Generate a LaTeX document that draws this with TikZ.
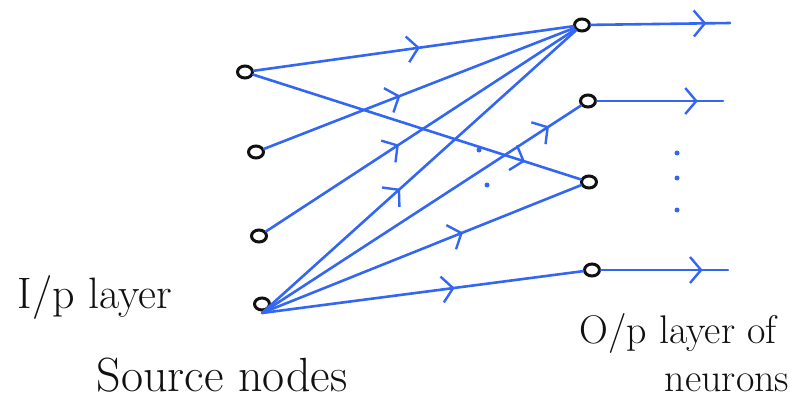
\documentclass[tikz,border=0pt]{standalone}
\usepackage{tikz}
\usetikzlibrary{arrows.meta,positioning,shapes.geometric,decorations.markings}
\definecolor{wire}{HTML}{3366F2}
\definecolor{ink}{HTML}{111111}
\tikzset{
  neuron/.style={ellipse,draw=ink,line width=3pt,minimum width=15pt,minimum height=12pt,inner sep=0pt},
  link/.style={draw=wire,line width=2.6pt,line cap=round},
  midarrow/.style={postaction={decorate},decoration={markings,
    mark=at position #1 with {\arrow[wire,line width=2.4pt]{Straight Barb[length=11pt,width=26pt]}}}},
  hand/.style={font=\fontsize{44}{48}\selectfont,text=ink,inner sep=0pt},
  dot/.style={circle,fill=wire,inner sep=0pt,minimum size=5pt}
}
\begin{document}
\begin{tikzpicture}[x=1pt,y=-1pt]
  \useasboundingbox (0,0) rectangle (794,404);
  % input layer
  \node[neuron] (i1) at (245,72) {};
  \node[neuron] (i2) at (256,152) {};
  \node[neuron] (i3) at (259,236) {};
  \node[neuron] (i4) at (262,304) {};
  \coordinate (s4) at (262,313);
  % output layer
  \node[neuron] (o1) at (582,25) {};
  \node[neuron] (o2) at (588,101) {};
  \node[neuron] (o3) at (589,182) {};
  \node[neuron] (o4) at (592,270) {};
  \coordinate (y1) at (730,23);
  \coordinate (y2) at (723,101);
  \coordinate (y4) at (728,270);
  % connections
  \draw[link,midarrow=0.52] (i1) -- (o1);
  \draw[link,midarrow=0.83] (i1) -- (o3);
  \draw[link,midarrow=0.44] (i2) -- (o1);
  \draw[link,midarrow=0.43] (i3) -- (o1);
  \foreach \o/\p in {o1/0.44,o2/0.9,o3/0.63,o4/0.6}{
    \draw[link,midarrow=\p] (s4) -- (\o);}
  \draw[link,midarrow=0.83] (o1) -- (y1);
  \draw[link,midarrow=0.8] (o2) -- (y2);
  \draw[link,midarrow=0.8] (o4) -- (y4);
  % dots
  \foreach \n/\x/\y in {d1/677/153,d2/677/178,d3/677/210,d4/479/150,d5/487/185}{
    \node[dot] (\n) at (\x,\y) {};}
  % labels
  \node[hand] (inlbl) at (95,297) {I/p layer};
  \node[hand,font=\fontsize{48}{52}\selectfont] (srclbl) at (222,375) {Source nodes};
  \node[hand,font=\fontsize{40}{44}\selectfont] (outlbl) at (678,333) {O/p layer of};
  \node[hand,font=\fontsize{40}{44}\selectfont] (neulbl) at (727,383) {neurons};
\end{tikzpicture}
\end{document}
